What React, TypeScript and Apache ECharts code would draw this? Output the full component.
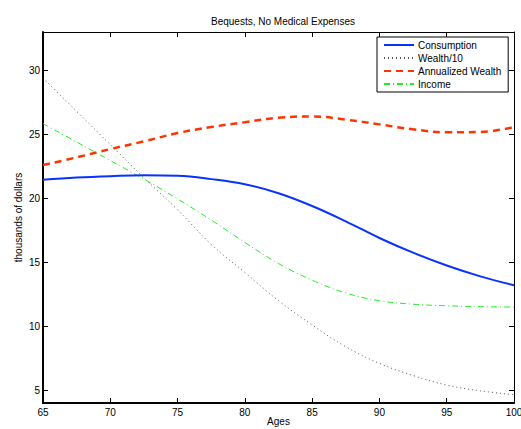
import React, { useEffect, useRef } from "react";
import * as echarts from "echarts";

const ages = [65, 67.5, 70, 72.5, 75, 77.5, 80, 82.5, 85, 87.5, 90, 92.5, 95, 97.5, 100];
const consumption = [21.45, 21.62, 21.73, 21.8, 21.76, 21.5, 21.1, 20.4, 19.4, 18.2, 16.9, 15.75, 14.75, 13.9, 13.2];
const wealth10 = [29.4, 26.8, 24.2, 21.6, 19.1, 16.4, 14.2, 12.0, 10.1, 8.4, 7.1, 6.15, 5.4, 4.95, 4.65];
const annualized = [22.6, 23.2, 23.85, 24.45, 25.1, 25.57, 25.95, 26.3, 26.4, 26.15, 25.78, 25.39, 25.16, 25.18, 25.57];
const income = [25.84, 24.4, 22.95, 21.5, 19.95, 18.3, 16.55, 14.9, 13.6, 12.6, 12.0, 11.72, 11.6, 11.53, 11.5];
const yTicks = [5, 10, 15, 20, 25, 30];
const seriesNames = ["Consumption", "Wealth/10", "Annualized Wealth", "Income"];

const FONT = "Liberation Sans, Arial, sans-serif";

export default function App() {
  const ref = useRef<HTMLDivElement>(null);
  useEffect(() => {
    if (!ref.current) return;
    const chart = echarts.init(ref.current, undefined, { renderer: "svg" });
    const pairs = (vals: number[]) => ages.map((a, i) => [a, vals[i]]);
    const xBase = {
      type: "value",
      min: 65,
      max: 100,
      interval: 5,
      splitLine: { show: false },
      axisTick: { inside: true, length: 5, lineStyle: { color: "#000" } },
    };
    const yBase = {
      type: "value",
      min: 4,
      max: 33,
      splitLine: { show: false },
      axisTick: { inside: true, length: 5, customValues: yTicks, lineStyle: { color: "#000" } },
    };
    chart.setOption({
      animation: false,
      textStyle: { fontFamily: FONT },
      title: {
        text: "Bequests, No Medical Expenses",
        left: 278,
        top: 11,
        textAlign: "center",
        textStyle: { fontSize: 10, fontWeight: "normal", color: "#000", fontFamily: FONT },
      },
      grid: { left: 43, right: 7, top: 32, bottom: 26, containLabel: false, outerBoundsMode: "none" },
      legend: {
        data: seriesNames,
        orient: "vertical",
        left: 377,
        top: 37,
        backgroundColor: "#fff",
        borderColor: "#000",
        borderWidth: 1,
        borderRadius: 0,
        padding: [3, 7, 3, 6],
        itemGap: 3,
        itemWidth: 30,
        itemHeight: 10,
        itemStyle: { opacity: 0 },
        textStyle: { fontSize: 10, color: "#000", fontFamily: FONT, padding: [0, 0, 0, -1] },
      },
      xAxis: [
        {
          ...xBase,
          position: "bottom",
          name: "Ages",
          nameLocation: "middle",
          nameGap: 13,
          nameMoveOverlap: false,
          nameTextStyle: { fontSize: 10, color: "#000" },
          axisLine: { lineStyle: { color: "#000", width: 2 } },
          axisLabel: { fontSize: 10, color: "#000", margin: 4 },
        },
        {
          ...xBase,
          position: "top",
          axisLine: { lineStyle: { color: "#000", width: 1 } },
          axisLabel: { show: false },
        },
      ],
      yAxis: [
        {
          ...yBase,
          position: "left",
          name: "thousands of dollars",
          nameLocation: "middle",
          nameGap: 20,
          nameMoveOverlap: false,
          nameTextStyle: { fontSize: 10, color: "#000" },
          axisLine: { lineStyle: { color: "#000", width: 2 } },
          axisLabel: { fontSize: 10, color: "#000", margin: 3, customValues: yTicks },
        },
        {
          ...yBase,
          position: "right",
          axisLine: { lineStyle: { color: "#000", width: 1 } },
          axisLabel: { show: false },
        },
      ],
      series: [
        {
          name: seriesNames[0],
          type: "line",
          data: pairs(consumption),
          smooth: 0.4,
          symbol: "none",
          lineStyle: { color: "#0a32ff", width: 2, type: "solid" },
          itemStyle: { color: "#0a32ff" },
          z: 5,
        },
        {
          name: seriesNames[1],
          type: "line",
          data: pairs(wealth10),
          smooth: 0.4,
          symbol: "none",
          lineStyle: { color: "#555", width: 1, type: [1, 3] },
          itemStyle: { color: "#555" },
          z: 2,
        },
        {
          name: seriesNames[2],
          type: "line",
          data: pairs(annualized),
          smooth: 0.4,
          symbol: "none",
          lineStyle: { color: "#ff3300", width: 2.5, type: [7, 5] },
          itemStyle: { color: "#ff3300" },
          z: 4,
        },
        {
          name: seriesNames[3],
          type: "line",
          data: pairs(income),
          smooth: 0.4,
          symbol: "none",
          lineStyle: { color: "#22ee22", width: 1, type: [6, 3, 1, 3] },
          itemStyle: { color: "#22ee22" },
          z: 3,
        },
      ],
    });
    return () => chart.dispose();
  }, []);
  return (
    <div
      ref={ref}
      style={{ position: "absolute", left: 0, top: 0, width: 521, height: 429, background: "#fff" }}
    />
  );
}
